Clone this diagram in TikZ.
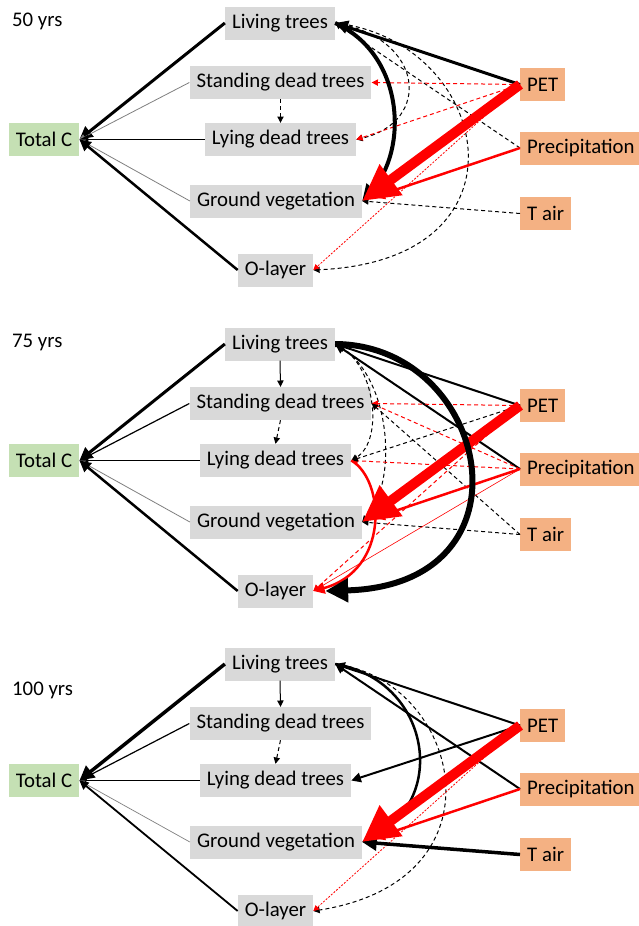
\documentclass[tikz,border=0pt]{standalone}
\usepackage{fontspec}
\setmainfont{Carlito}
\usetikzlibrary{arrows.meta}
\definecolor{boxgray}{HTML}{D9D9D9}
\definecolor{boxgreen}{HTML}{C5E0B4}
\definecolor{boxorange}{HTML}{F4B183}
\definecolor{linegray}{HTML}{7F7F7F}
\tikzset{
  pool/.style={fill=boxgray,minimum height=33pt,inner xsep=7pt,inner ysep=0pt,font=\fontsize{20.8}{24}\selectfont},
  totc/.style={pool,fill=boxgreen},
  clim/.style={pool,fill=boxorange,anchor=west},
  yrs/.style={anchor=west,inner sep=0pt,font=\fontsize{20.8}{24}\selectfont},
  eff/.style={-{Triangle[length=3pt 3.3,width=3pt 3.3]},line width=#1},
  eff/.default=1pt,
  effd/.style={eff=#1,dash pattern=on 4pt off 3pt},
  effd/.default=1pt,
  fine/.style={eff=#1,dash pattern=on 2pt off 1.5pt,color=red},
  fine/.default=0.8pt,
}
\begin{document}
\begin{tikzpicture}[x=1pt,y=-1pt]
  \useasboundingbox (0,0) rectangle (639,926);
  % boxes, same layout in the three panels
  \foreach \p/\dy/\lx in {1/0/280.5,2/321/275.5,3/641/275.5} {
    \begin{scope}[yshift=-\dy pt]
      \node[pool] (lt\p) at (280,23) {Living trees};
      \node[pool] (sdt\p) at (280.5,82.5) {Standing dead trees};
      \node[pool] (ldt\p) at (\lx,139.5) {Lying dead trees};
      \node[totc] (tc\p) at (44,139.5) {Total C};
      \node[pool] (gv\p) at (276,201) {Ground vegetation};
      \node[pool] (ol\p) at (275.5,270) {O-layer};
      \node[clim] (pet\p) at (520,84.5) {PET};
      \node[clim] (pre\p) at (520,148) {Precipitation};
      \node[clim] (ta\p) at (520,213.5) {T air};
    \end{scope}
  }
  \node[yrs] (yr1) at (12,21) {50 yrs};
  \node[yrs] (yr2) at (12,342) {75 yrs};
  \node[yrs] (yr3) at (12,690) {100 yrs};

  % 50 yrs
  \draw[eff=3pt] (lt1.west) -- (tc1.east);
  \draw[eff=0.8pt,linegray] (sdt1.west) -- (tc1.east);
  \draw[eff=1.8pt] (ldt1.west) -- (tc1.east);
  \draw[eff=0.8pt,linegray] (gv1.west) -- (tc1.east);
  \draw[eff=2.5pt] (ol1.west) -- (tc1.east);
  \draw[effd] (sdt1.south) -- (ldt1.north);
  \draw[effd] (pre1.west) -- (lt1.east);
  \draw[effd] (ta1.west) -- (gv1.east);
  \draw[effd] (lt1.east) .. controls (425,38) and (432,122) .. (ldt1.east);
  \draw[effd] (lt1.east) .. controls (490,40) and (540,260) .. (ol1.east);
  \draw[effd,red] (pet1.west) -- (sdt1.east);
  \draw[effd,red] (pet1.west) -- (ldt1.east);
  \draw[fine] (pet1.west) -- (ol1.east);
  \draw[eff=3pt] (pet1.west) -- (lt1.east);
  \draw[eff=4pt] (lt1.east) .. controls (405,55) and (408,150) .. (gv1.east);
  \draw[eff=2.5pt,red,shorten >=12pt] (pre1.west) -- (gv1.east);
  \draw[eff=10pt,red] (pet1.west) -- (gv1.east);

  % 75 yrs
  \begin{scope}[yshift=-321pt]
    \draw[eff=3pt] (lt2.west) -- (tc2.east);
    \draw[eff=1.2pt] (sdt2.west) -- (tc2.east);
    \draw[eff=1.8pt] (ldt2.west) -- (tc2.east);
    \draw[eff=0.8pt,linegray] (gv2.west) -- (tc2.east);
    \draw[eff=2.5pt] (ol2.west) -- (tc2.east);
    \draw[eff] (lt2.south) -- (sdt2.north);
    \draw[effd] (sdt2.south) -- (ldt2.north);
    \draw[eff=2pt] (pet2.west) -- (lt2.east);
    \draw[eff=2pt] (pre2.west) -- (lt2.east);
    \draw[effd] (lt2.east) .. controls (375,39) and (385,119) .. (ldt2.east);
    \draw[effd] (lt2.east) .. controls (390,49) and (400,159) .. (gv2.east);
    \draw[effd,red] (pet2.west) -- (sdt2.east);
    \draw[effd,red] (pre2.west) -- (sdt2.east);
    \draw[effd,red] (pre2.west) -- (ldt2.east);
    \draw[effd] (pet2.west) -- (ldt2.east);
    \draw[effd] (ta2.west) -- (sdt2.east);
    \draw[effd] (ta2.west) -- (gv2.east);
    \draw[effd,red] (pet2.west) -- (ol2.east);
    \draw[eff=0.6pt,red] (pre2.west) -- (ol2.east);
    \draw[eff=2.5pt,red,shorten >=12pt] (pre2.west) -- (gv2.east);
    \draw[eff=10pt,red] (pet2.west) -- (gv2.east);
    \draw[eff=2.5pt,red] (ldt2.east) .. controls (385,159) and (390,249) .. (ol2.east);
    \draw[eff=6pt] (lt2.east) .. controls (490,24) and (540,264) .. ([xshift=12pt]ol2.east);
  \end{scope}

  % 100 yrs
  \begin{scope}[yshift=-641pt]
    \draw[eff=3.5pt] (lt3.west) -- (tc3.east);
    \draw[eff=1.2pt] (sdt3.west) -- (tc3.east);
    \draw[eff=1.2pt] (ldt3.west) -- (tc3.east);
    \draw[eff=0.7pt,linegray] (gv3.west) -- (tc3.east);
    \draw[eff=1.8pt] (ol3.west) -- (tc3.east);
    \draw[eff] (lt3.south) -- (sdt3.north);
    \draw[effd] (sdt3.south) -- (ldt3.north);
    \draw[eff=2pt] (pet3.west) -- (lt3.east);
    \draw[eff=2pt] (pre3.west) -- (lt3.east);
    \draw[eff=2pt] (pet3.west) -- (ldt3.east);
    \draw[effd] (lt3.east) .. controls (460,39) and (510,239) .. (ol3.east);
    \draw[fine] (pet3.west) -- (ol3.east);
    \draw[eff=2.5pt] (lt3.east) .. controls (430,39) and (450,159) .. (gv3.east);
    \draw[eff=3.5pt] (ta3.west) -- (gv3.east);
    \draw[eff=2.5pt,red,shorten >=12pt] (pre3.west) -- (gv3.east);
    \draw[eff=10pt,red] (pet3.west) -- (gv3.east);
  \end{scope}
\end{tikzpicture}
\end{document}
